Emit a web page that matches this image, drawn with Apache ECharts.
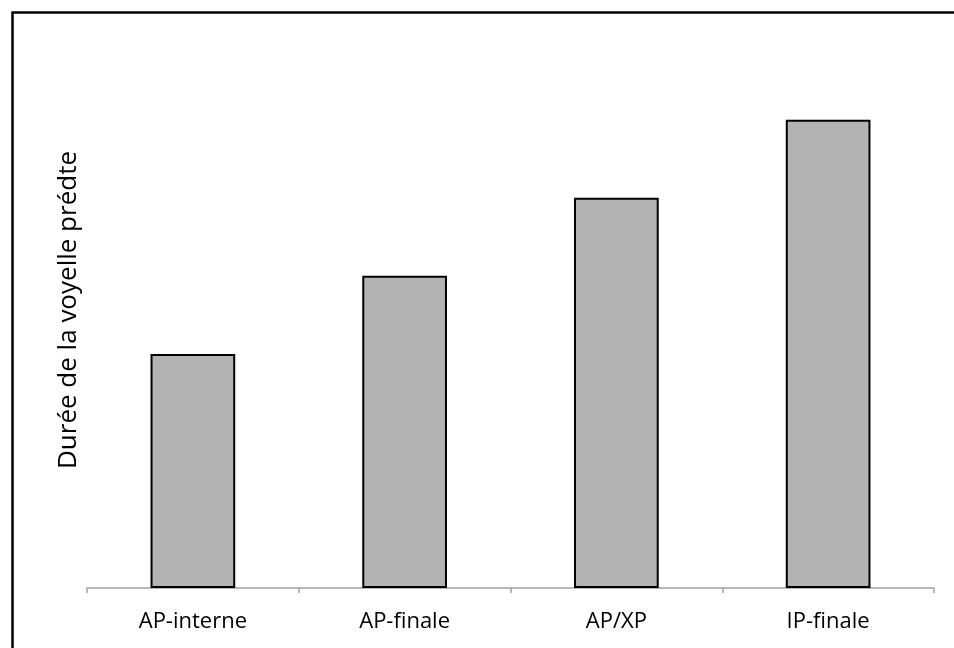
<!DOCTYPE html>
<html>
<head>
<meta charset="utf-8">
<script src="https://cdn.jsdelivr.net/npm/echarts@6/dist/echarts.min.js"></script>
<style>html,body{margin:0;padding:0;background:#fff;}#c{width:954px;height:648px;}</style>
</head>
<body>
<div id="c"></div>
<script>
const categories = ['AP-interne', 'AP-finale', 'AP/XP', 'IP-finale'];
const values = [60, 80, 100, 120];
const yTitle = 'Durée de la voyelle prédte';

const chart = echarts.init(document.getElementById('c'), null, {renderer: 'canvas'});
chart.setOption({
  animation: false,
  backgroundColor: '#ffffff',
  textStyle: {fontFamily: 'Open Sans'},
  graphic: [{
    type: 'rect',
    left: 10, top: 10,
    shape: {x: 0, y: 0, width: 1000, height: 1000},
    style: {fill: 'none', stroke: '#000', lineWidth: 2.5},
    silent: true
  }],
  grid: {left: 87, right: 20, top: 32, bottom: 60},
  xAxis: {
    type: 'category',
    data: categories,
    axisLine: {lineStyle: {color: '#a0a0a0', width: 1.5}},
    axisTick: {show: true, length: 5, lineStyle: {color: '#a0a0a0', width: 1.5}},
    axisLabel: {color: '#000', fontSize: 22, fontFamily: 'Open Sans', margin: 23}
  },
  yAxis: {
    type: 'value',
    min: 0, max: 142.5,
    name: yTitle,
    nameLocation: 'middle',
    nameGap: 5,
    nameTextStyle: {color: '#000', fontSize: 26, fontFamily: 'Open Sans'},
    axisLine: {show: false},
    axisTick: {show: false},
    axisLabel: {show: false},
    splitLine: {show: false}
  },
  series: [{
    type: 'bar',
    data: values,
    barWidth: '40%',
    itemStyle: {color: '#b3b3b3', borderColor: '#000', borderWidth: 2}
  }]
});
</script>
</body>
</html>
